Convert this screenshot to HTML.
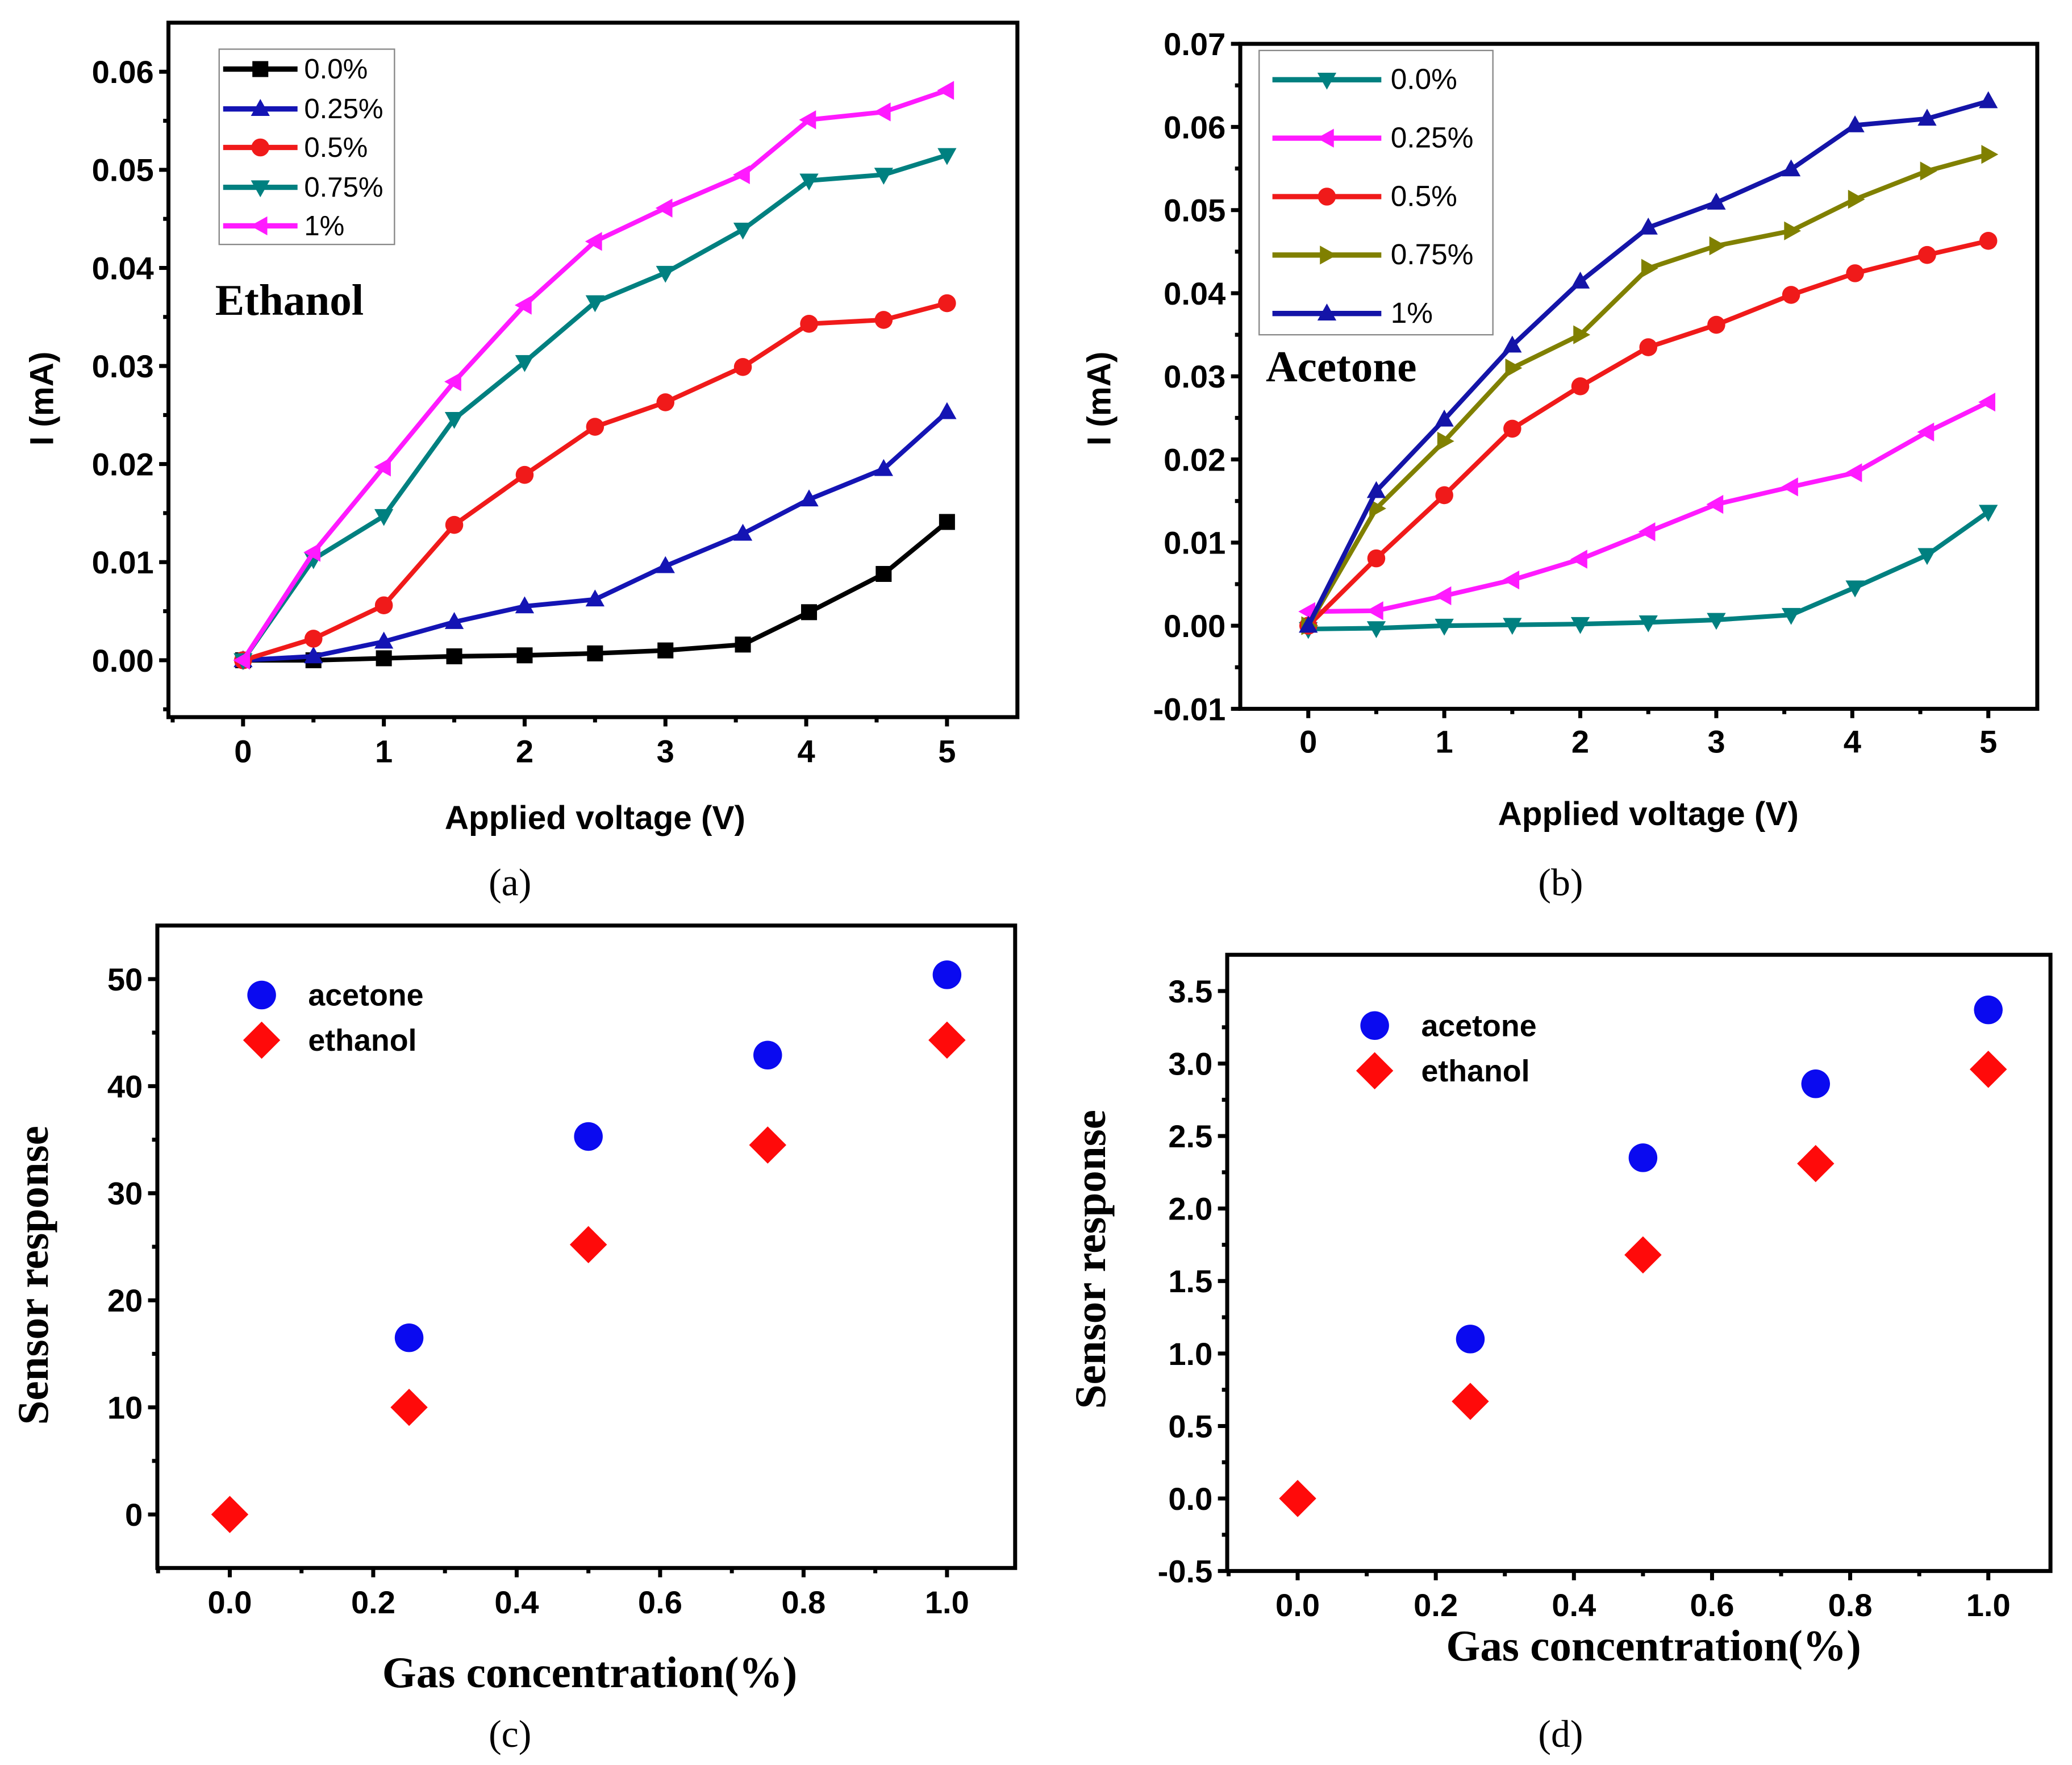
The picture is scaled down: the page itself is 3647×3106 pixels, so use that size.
<!DOCTYPE html>
<html><head><meta charset="utf-8"><title>Gas sensor I-V and response</title>
<style>html,body{margin:0;padding:0;background:#fff}svg{display:block}</style></head>
<body>
<svg id="fig" xmlns="http://www.w3.org/2000/svg" width="3647" height="3106" viewBox="0 0 1560 1328.6">
<rect width="1560" height="1328.6" fill="#fff"/>
</svg>
<script>
// ---------- data ----------
const voltageX = [0,0.5,1,1.5,2,2.5,3,3.55,4.02,4.55,5];
const ethLabels = ["0.0%","0.25%","0.5%","0.75%","1%"];
const eth00 = [0,0,0.0002,0.0004,0.0005,0.0007,0.001,0.0016,0.0049,0.0088,0.0141];
const eth025 = [0,0.0004,0.0019,0.0039,0.0055,0.0062,0.0096,0.0129,0.0164,0.0195,0.0253];
const eth05 = [0,0.0022,0.0056,0.0138,0.0189,0.0238,0.0263,0.0299,0.0343,0.0347,0.0364];
const eth075 = [0,0.0103,0.0147,0.0246,0.0304,0.0365,0.0395,0.0439,0.0489,0.0495,0.0515];
const eth1 = [0,0.011,0.0197,0.0284,0.0362,0.0427,0.0461,0.0495,0.0551,0.0559,0.0581];
const ace00 = [-0.0004,-0.0003,0,0.0001,0.0002,0.0004,0.0007,0.0013,0.0046,0.0085,0.0137];
const ace025 = [0.0017,0.0018,0.0036,0.0055,0.008,0.0113,0.0146,0.0167,0.0184,0.0233,0.0269];
const ace05 = [0,0.0081,0.0157,0.0237,0.0288,0.0335,0.0362,0.0398,0.0424,0.0446,0.0463];
const ace075 = [0,0.0141,0.0222,0.031,0.035,0.043,0.0457,0.0475,0.0513,0.0547,0.0567];
const ace1 = [0,0.0162,0.0248,0.0337,0.0414,0.0479,0.0509,0.0549,0.0602,0.061,0.0631];
const concX = [0,0.25,0.5,0.75,1.0];
const concXAcetone = [0.25,0.5,0.75,1.0];
const respAcetoneC = [16.5,35.3,42.9,50.4];
const respEthanolC = [0,10.0,25.2,34.5,44.3];
const respAcetoneD = [1.10,2.35,2.86,3.37];
const respEthanolD = [0,0.67,1.68,2.31,2.96];
const ticksA_Y = [0,0.01,0.02,0.03,0.04,0.05,0.06];
const ticksB_Y = [-0.01,0,0.01,0.02,0.03,0.04,0.05,0.06,0.07];
const ticksV = [0,1,2,3,4,5];
const ticksC_Y = [0,10,20,30,40,50];
const ticksD_Y = [-0.5,0,0.5,1.0,1.5,2.0,2.5,3.0,3.5];
const ticksConc = [0,0.2,0.4,0.6,0.8,1.0];

const NS="http://www.w3.org/2000/svg";
const svg=document.getElementById('fig');
function el(tag,attrs,parent,text){const e=document.createElementNS(NS,tag);for(const k in attrs)e.setAttribute(k,attrs[k]);if(text!==undefined)e.textContent=text;(parent||svg).appendChild(e);return e;}
const SANS='"Liberation Sans", Arial, sans-serif', SERIF='"Liberation Serif", "Times New Roman", serif';

function makeAxes(name,cfg){
  const g=el('g',{});
  
  
  const sx=v=>cfg.px0+(v-cfg.x0)/(cfg.x1-cfg.x0)*(cfg.px1-cfg.px0);
  const sy=v=>cfg.py0+(v-cfg.y0)/(cfg.y1-cfg.y0)*(cfg.py1-cfg.py0);
  const L=sx(cfg.xmin),R=sx(cfg.xmax),T=sy(cfg.ymax),B=sy(cfg.ymin);
  const fr=el('rect',{x:L,y:T,width:R-L,height:B-T,fill:'none',stroke:'#000','stroke-width':3},g);
  
  
  cfg.yt.forEach((v,i)=>{
    const y=sy(v);
    el('line',{x1:L-7,x2:L,y1:y,y2:y,stroke:'#000','stroke-width':3},g);
    const t=el('text',{x:L-11,y:y+8.5,'text-anchor':'end','font-family':SANS,'font-weight':'bold','font-size':24},g,cfg.yfmt(v));
    
    
    if(i<cfg.yt.length-1){const m=sy((v+cfg.yt[i+1])/2);el('line',{x1:L-4,x2:L,y1:m,y2:m,stroke:'#000','stroke-width':3},g);}
  });
  {const m=sy(cfg.yt[0]-(cfg.yt[1]-cfg.yt[0])/2); if(m<B) el('line',{x1:L-4,x2:L,y1:m,y2:m,stroke:'#000','stroke-width':3},g);}
  {const m=sy(cfg.yt[cfg.yt.length-1]+(cfg.yt[1]-cfg.yt[0])/2); if(m>T) el('line',{x1:L-4,x2:L,y1:m,y2:m,stroke:'#000','stroke-width':3},g);}
  cfg.xt.forEach((v,i)=>{
    const x=sx(v);
    el('line',{x1:x,x2:x,y1:B,y2:B+7,stroke:'#000','stroke-width':3},g);
    const t=el('text',{x:x,y:B+cfg.xlabOff,'text-anchor':'middle','font-family':SANS,'font-weight':'bold','font-size':24},g,cfg.xfmt(v));
    
    
    if(i<cfg.xt.length-1){const m=sx((v+cfg.xt[i+1])/2);el('line',{x1:m,x2:m,y1:B,y2:B+4,stroke:'#000','stroke-width':3},g);}
  });
  {const m=sx(cfg.xt[0]-(cfg.xt[1]-cfg.xt[0])/2); if(m>L) el('line',{x1:m,x2:m,y1:B,y2:B+4,stroke:'#000','stroke-width':3},g);}
  {const m=sx(cfg.xt[cfg.xt.length-1]+(cfg.xt[1]-cfg.xt[0])/2); if(m<R) el('line',{x1:m,x2:m,y1:B,y2:B+4,stroke:'#000','stroke-width':3},g);}
  return {g,sx,sy,L,R,T,B};
}

function marker(g,type,x,y,color,s){
  s=s||7.5;
  let e;
  if(type==='square') e=el('rect',{x:x-s*0.8,y:y-s*0.8,width:s*1.6,height:s*1.6,fill:color},g);
  else if(type==='circle') e=el('circle',{cx:x,cy:y,r:s*0.9,fill:color},g);
  else if(type==='diamond') e=el('polygon',{points:`${x},${y-s} ${x+s},${y} ${x},${y+s} ${x-s},${y}`,fill:color},g);
  else {
    let p;
    if(type==='up') p=[[0,-1],[0.95,0.7],[-0.95,0.7]];
    if(type==='down') p=[[0,1],[0.95,-0.7],[-0.95,-0.7]];
    if(type==='left') p=[[-1,0],[0.7,0.95],[0.7,-0.95]];
    if(type==='right') p=[[1,0],[-0.7,0.95],[-0.7,-0.95]];
    e=el('polygon',{points:p.map(q=>`${x+q[0]*s},${y+q[1]*s}`).join(' '),fill:color},g);
  }
  return e;
}

function series(ax,name,xs,ys,color,mk){
  const g=el('g',{},ax.g);
  
  
  const pts=xs.map((x,i)=>`${ax.sx(x)},${ax.sy(ys[i])}`).join(' ');
  el('polyline',{points:pts,fill:'none',stroke:color,'stroke-width':3.5,'stroke-linejoin':'round'},g);
  xs.forEach((x,i)=>{const m=marker(g,mk,ax.sx(x),ax.sy(ys[i]),color);
    
    });
}

function legendLines(parent,name,box,rows,entries,x1,x2,tx,fs){
  const g=el('g',{},parent);
  
  
  el('rect',{x:box[0],y:box[1],width:box[2],height:box[3],fill:'#fff',stroke:'#888','stroke-width':1},g);
  entries.forEach((en,i)=>{
    const eg=el('g',{},g);
    
    
    el('line',{x1:x1,x2:x2,y1:rows[i],y2:rows[i],stroke:en.c,'stroke-width':4},eg);
    marker(eg,en.m,(x1+x2)/2,rows[i],en.c,7.5);
    el('text',{x:tx,y:rows[i]+7,'font-family':SANS,'font-size':fs},eg,en.t);
  });
}

function txt(name,attrs,s){const t=el('text',attrs,svg,s);return t;}

// ---------- panel a ----------
const fmt2=v=>v.toFixed(2);
const axA=makeAxes('panel-a-ethanol-iv',{x0:0,x1:5,px0:183,px1:713,y0:0,y1:0.06,py0:497,py1:54,
  xmin:-0.53,xmax:5.5,ymin:-0.0058,ymax:0.065,yt:ticksA_Y,xt:ticksV,yfmt:fmt2,xfmt:v=>String(v),xlabOff:34});
const colA=['#000000','#1414b4','#f01a1a','#008080','#ff1aff'];
const mkA=['square','up','circle','down','left'];
[eth00,eth025,eth05,eth075,eth1].forEach((d,i)=>series(axA,'ethanol-series-'+ethLabels[i],voltageX,d,colA[i],mkA[i]));
legendLines(axA.g,'legend-a',[165,37,132,147],[52,82,111,141,170],ethLabels.map((t,i)=>({t,c:colA[i],m:mkA[i]})),168,224,229,21);
txt('panel-a-gas-label',{x:162,y:237,'font-family':SERIF,'font-weight':'bold','font-size':33},'Ethanol');
txt('y-axis-title-a',{x:0,y:0,transform:'translate(40,300) rotate(-90)','text-anchor':'middle','font-family':SANS,'font-weight':'bold','font-size':25},'I (mA)');
txt('x-axis-title-a',{x:448,y:624,'text-anchor':'middle','font-family':SANS,'font-weight':'bold','font-size':25},'Applied voltage (V)');
txt('panel-a-caption',{x:384,y:674,'text-anchor':'middle','font-family':SERIF,'font-size':29},'(a)');

// ---------- panel b ----------
const axB=makeAxes('panel-b-acetone-iv',{x0:0,x1:5,px0:985,px1:1497,y0:0,y1:0.07,py0:471,py1:33,
  xmin:-0.5,xmax:5.36,ymin:-0.01,ymax:0.07,yt:ticksB_Y,xt:ticksV,yfmt:fmt2,xfmt:v=>String(v),xlabOff:33});
const colB=['#008080','#ff1aff','#f01a1a','#808000','#1414a8'];
const mkB=['down','left','circle','right','up'];
[ace00,ace025,ace05,ace075,ace1].forEach((d,i)=>series(axB,'acetone-series-'+ethLabels[i],voltageX,d,colB[i],mkB[i]));
legendLines(axB.g,'legend-b',[948,38,176,214],[60,104,148,192,236],ethLabels.map((t,i)=>({t,c:colB[i],m:mkB[i]})),958,1040,1047,22);
txt('panel-b-gas-label',{x:953,y:287,'font-family':SERIF,'font-weight':'bold','font-size':33},'Acetone');
txt('y-axis-title-b',{x:0,y:0,transform:'translate(836,300) rotate(-90)','text-anchor':'middle','font-family':SANS,'font-weight':'bold','font-size':25},'I (mA)');
txt('x-axis-title-b',{x:1241,y:621,'text-anchor':'middle','font-family':SANS,'font-weight':'bold','font-size':25},'Applied voltage (V)');
txt('panel-b-caption',{x:1175,y:674,'text-anchor':'middle','font-family':SERIF,'font-size':29},'(b)');

// ---------- scatter panels ----------
function scatterPanel(ax,acet,eth,legX,legY,tag){
  const ga=el('g',{},ax.g);
  
  
  concXAcetone.forEach((x,i)=>{const m=marker(ga,'circle',ax.sx(x),ax.sy(acet[i]),'#0a0af0',12);
    
    });
  const ge=el('g',{},ax.g);
  
  
  concX.forEach((x,i)=>{const m=marker(ge,'diamond',ax.sx(x),ax.sy(eth[i]),'#ff0a0a',14);
    
    });
  const lg=el('g',{},ax.g);
  
  
  marker(lg,'circle',legX,legY,'#0a0af0',12);
  el('text',{x:legX+35,y:legY+8,'font-family':SANS,'font-weight':'bold','font-size':23},lg,'acetone');
  marker(lg,'diamond',legX,legY+34,'#ff0a0a',14);
  el('text',{x:legX+35,y:legY+42,'font-family':SANS,'font-weight':'bold','font-size':23},lg,'ethanol');
}
const axC=makeAxes('panel-c-sensor-response',{x0:0,x1:1,px0:173,px1:713,y0:0,y1:50,py0:1140,py1:737,
  xmin:-0.101,xmax:1.095,ymin:-5,ymax:55,yt:ticksC_Y,xt:ticksConc,yfmt:v=>String(v),xfmt:v=>v.toFixed(1),xlabOff:34});
scatterPanel(axC,respAcetoneC,respEthanolC,197,749,'c');
txt('y-axis-title-c',{x:0,y:0,transform:'translate(36,960) rotate(-90)','text-anchor':'middle','font-family':SERIF,'font-weight':'bold','font-size':33},'Sensor response');
txt('x-axis-title-c',{x:444,y:1270,'text-anchor':'middle','font-family':SERIF,'font-weight':'bold','font-size':33},'Gas concentration(%)');
txt('panel-c-caption',{x:384,y:1315,'text-anchor':'middle','font-family':SERIF,'font-size':29},'(c)');

const axD=makeAxes('panel-d-sensor-response',{x0:0,x1:1,px0:977,px1:1497,y0:0,y1:3.5,py0:1128,py1:746,
  xmin:-0.102,xmax:1.09,ymin:-0.5,ymax:3.75,yt:ticksD_Y,xt:ticksConc,yfmt:v=>v.toFixed(1),xfmt:v=>v.toFixed(1),xlabOff:34});
scatterPanel(axD,respAcetoneD,respEthanolD,1035,772,'d');
txt('y-axis-title-d',{x:0,y:0,transform:'translate(832,948) rotate(-90)','text-anchor':'middle','font-family':SERIF,'font-weight':'bold','font-size':33},'Sensor response');
txt('x-axis-title-d',{x:1245,y:1250,'text-anchor':'middle','font-family':SERIF,'font-weight':'bold','font-size':33},'Gas concentration(%)');
txt('panel-d-caption',{x:1175,y:1315,'text-anchor':'middle','font-family':SERIF,'font-size':29},'(d)');
</script>
</body></html>
